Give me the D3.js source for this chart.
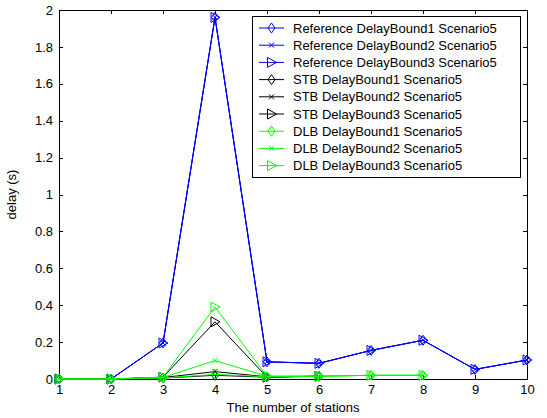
<!DOCTYPE html>
<html>
<head>
<meta charset="utf-8">
<title>delay vs stations</title>
<script src="https://cdn.jsdelivr.net/npm/d3@7"></script>
<style>
  body { margin: 0; background: #fff; }
  svg text { font-family: "Liberation Sans", Arial, sans-serif; font-size: 13px; fill: #000; }
</style>
</head>
<body>
<div id="chart"></div>
<script>
// values
const stations = [1, 2, 3, 4, 5, 6, 7, 8, 9, 10];
const refDB1 = [0, 0, 0.195, 1.96, 0.093, 0.085, 0.155, 0.21, 0.052, 0.103];
const refDB2 = [0, 0, 0.195, 1.96, 0.093, 0.085, 0.155, 0.21, 0.052, 0.103];
const refDB3 = [0, 0, 0.195, 1.96, 0.093, 0.085, 0.155, 0.21, 0.052, 0.103];
const stbDB1 = [0, 0, 0.005, 0.02, 0.01, 0.015];
const stbDB2 = [0, 0, 0.008, 0.04, 0.012, 0.015];
const stbDB3 = [0, 0, 0.01, 0.31, 0.01, 0.015];
const dlbDB1 = [0, 0, 0.005, 0.025, 0.012, 0.015, 0.02, 0.02];
const dlbDB2 = [0, 0, 0.008, 0.1, 0.015, 0.015, 0.02, 0.02];
const dlbDB3 = [0, 0, 0.01, 0.39, 0.015, 0.015, 0.02, 0.02];
const yTicks = [0, 0.2, 0.4, 0.6, 0.8, 1, 1.2, 1.4, 1.6, 1.8, 2];

const series = [
  {name: "Reference DelayBound1 Scenario5", values: refDB1, color: "#0000ff", marker: "diamond"},
  {name: "Reference DelayBound2 Scenario5", values: refDB2, color: "#0000ff", marker: "x"},
  {name: "Reference DelayBound3 Scenario5", values: refDB3, color: "#0000ff", marker: "tri"},
  {name: "STB DelayBound1 Scenario5", values: stbDB1, color: "#000000", marker: "diamond"},
  {name: "STB DelayBound2 Scenario5", values: stbDB2, color: "#000000", marker: "x"},
  {name: "STB DelayBound3 Scenario5", values: stbDB3, color: "#000000", marker: "tri"},
  {name: "DLB DelayBound1 Scenario5", values: dlbDB1, color: "#00ff00", marker: "diamond"},
  {name: "DLB DelayBound2 Scenario5", values: dlbDB2, color: "#00ff00", marker: "x"},
  {name: "DLB DelayBound3 Scenario5", values: dlbDB3, color: "#00ff00", marker: "tri"}
];

const width = 547, height = 418;
const mLeft = 59, mRight = 527, mTop = 10, mBottom = 379;

const svg = d3.select("#chart").append("svg")
  .attr("width", width)
  .attr("height", height);

const x = d3.scaleLinear().domain([1, 10]).range([mLeft, mRight]);
const y = d3.scaleLinear().domain([0, 2]).range([mBottom, mTop]);

// axes box
svg.append("rect")
  .attr("x", mLeft).attr("y", mTop)
  .attr("width", mRight - mLeft).attr("height", mBottom - mTop)
  .attr("fill", "#fff").attr("stroke", "#000").attr("stroke-width", 1)
  .attr("shape-rendering", "crispEdges");

const tickLen = 4;
// bottom and left axes, ticks pointing inward
svg.append("g")
  .attr("transform", `translate(0,${mBottom})`)
  .call(d3.axisBottom(x).tickValues(stations).tickSize(-tickLen).tickPadding(6).tickFormat(d3.format("d")))
  .call(g => g.select(".domain").remove());
svg.append("g")
  .attr("transform", `translate(${mLeft},0)`)
  .call(d3.axisLeft(y).tickValues(yTicks).tickSize(-tickLen).tickPadding(6).tickFormat(d => String(+d.toFixed(1))))
  .call(g => g.select(".domain").remove());
// top and right ticks
svg.append("g")
  .attr("transform", `translate(0,${mTop})`)
  .call(d3.axisTop(x).tickValues(stations).tickSize(-tickLen).tickFormat(""))
  .call(g => g.select(".domain").remove());
svg.append("g")
  .attr("transform", `translate(${mRight},0)`)
  .call(d3.axisRight(y).tickValues(yTicks).tickSize(-tickLen).tickFormat(""))
  .call(g => g.select(".domain").remove());
svg.selectAll(".tick text").attr("font-size", 13).attr("font-family", "Liberation Sans, Arial, sans-serif").attr("fill", "#000");
svg.selectAll(".tick line").attr("stroke", "#000").attr("shape-rendering", "crispEdges");

function drawMarker(g, type, color) {
  if (type === "diamond") {
    g.append("path").attr("d", "M0,-5L3.5,0L0,5L-3.5,0Z")
      .attr("fill", "none").attr("stroke", color);
  } else if (type === "x") {
    g.append("path").attr("d", "M-2.5,-2.5L2.5,2.5M-2.5,2.5L2.5,-2.5")
      .attr("fill", "none").attr("stroke", color);
  } else {
    g.append("path").attr("d", "M-4,-5L5,0L-4,5Z")
      .attr("fill", "none").attr("stroke", color);
  }
}

const line = d3.line().x((d, i) => x(stations[i])).y(d => y(d));

const plot = svg.append("g");
series.forEach(s => {
  const g = plot.append("g");
  g.append("path")
    .datum(s.values)
    .attr("d", line)
    .attr("fill", "none")
    .attr("stroke", s.color)
    .attr("stroke-width", 1);
  s.values.forEach((v, i) => {
    const m = g.append("g").attr("transform", `translate(${x(stations[i])},${y(v)})`);
    drawMarker(m, s.marker, s.color);
  });
});

// legend
const lg = svg.append("g").attr("transform", "translate(252,16)");
lg.append("rect").attr("width", 268).attr("height", 161)
  .attr("fill", "#fff").attr("stroke", "#000").attr("shape-rendering", "crispEdges");
series.forEach((s, i) => {
  const row = lg.append("g").attr("transform", `translate(0,${12 + i * 17.2})`);
  row.append("line").attr("x1", 7).attr("x2", 32).attr("stroke", s.color);
  const m = row.append("g").attr("transform", "translate(19.5,0)");
  drawMarker(m, s.marker, s.color);
  row.append("text").attr("x", 41).attr("dy", "0.35em").text(s.name);
});

// axis labels
svg.append("text")
  .attr("x", (mLeft + mRight) / 2).attr("y", 412)
  .attr("text-anchor", "middle")
  .text("The number of stations");
svg.append("text")
  .attr("transform", `translate(16,${(mTop + mBottom) / 2}) rotate(-90)`)
  .attr("text-anchor", "middle")
  .text("delay (s)");
</script>
</body>
</html>
